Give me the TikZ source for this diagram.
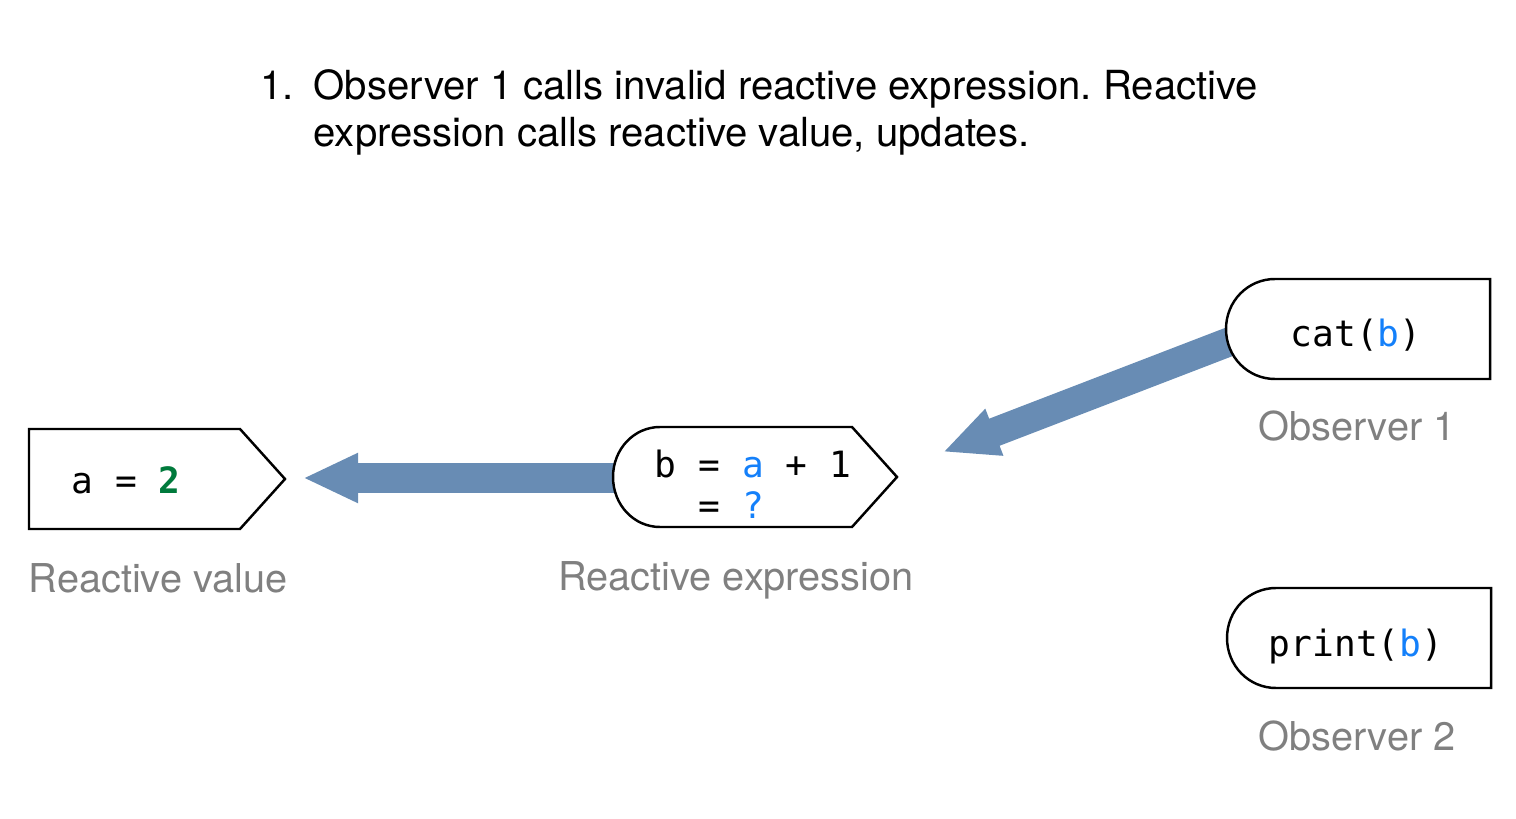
\documentclass[tikz,border=0pt]{standalone}
\usepackage{fontspec}
\setmainfont{TeX Gyre Heros}
\setmonofont{DejaVu Sans Mono}
\usetikzlibrary{arrows.meta}
\definecolor{flowblue}{RGB}{104,140,180}
\definecolor{codeblue}{RGB}{20,128,250}
\definecolor{codegreen}{RGB}{0,122,60}
\definecolor{labelgray}{RGB}{128,128,128}
\frenchspacing

\begin{document}
\begin{tikzpicture}[x=0.01cm, y=-0.01cm,
		box/.style={draw=black, fill=white, line width=0.7pt},
		flow/.style={draw=flowblue, line width=0.29cm, -{Triangle[width=0.46cm,length=0.55cm]}},
		code/.style={font=\fontsize{10.3}{11.4}\selectfont\ttfamily, anchor=base, inner sep=0pt},
		caption/.style={font=\fontsize{11.3}{13}\selectfont, text=labelgray, anchor=base, inner sep=0pt},
		heading/.style={font=\fontsize{11.4}{13}\selectfont, anchor=base west, inner sep=0pt}]
				
					\useasboundingbox (0,0) rectangle (1516,819);
					
					% title
					\node[heading] (num) at (260,100) {1.};
					\node[heading] (title1) at (313,100) {Observer 1 calls invalid reactive expression. Reactive};
					\node[heading] (title2) at (313,147) {expression calls reactive value, updates.};
					
					% arrow ends
					\coordinate (valR) at (303,478);
					\coordinate (exprL) at (622,478);
					\coordinate (exprR) at (943,452);
					\coordinate (obsA) at (1234,340);
					
					\draw[flow] (exprL) -- (valR);
					\draw[flow] (obsA) -- (exprR);
					
					% reactive value
					\draw[box] (29,429) -- (240,429) -- (285,479) -- (240,529) -- (29,529) -- cycle;
					\node[code] (val) at (126,494) {a = \textcolor{codegreen}{\textbf{2}}};
					\node[caption] (vallabel) at (158,592) {Reactive value};
					
					% reactive expression
					\draw[box] (660,427) -- (852,427) -- (897,477) -- (852,527) -- (660,527)
						.. controls (634,527) and (613,505) .. (613,477)
						.. controls (613,449) and (634,427) .. (660,427) -- cycle;
					\node[code] (expr1) at (753,478) {b = \textcolor{codeblue}{a} + 1};
					\node[code, anchor=base west] (expr2) at (expr1.base west) [yshift=-0.4cm] {\phantom{b }= \textcolor{codeblue}{?}};
					\node[caption] (exprlabel) at (736,590) {Reactive expression};
					
					% observers
					\draw[box] (1275,279) -- (1490,279) -- (1490,379) -- (1275,379)
						.. controls (1248,379) and (1226,357) .. (1226,329)
						.. controls (1226,301) and (1248,279) .. (1275,279) -- cycle;
					\node[code] (obs1) at (1356,347) {cat(\textcolor{codeblue}{b})};
					\node[caption] (obs1label) at (1357,441) {Observer 1};
					
					\draw[box] (1276,588) -- (1491,588) -- (1491,688) -- (1276,688)
						.. controls (1249,688) and (1227,666) .. (1227,638)
						.. controls (1227,610) and (1249,588) .. (1276,588) -- cycle;
					\node[code] (obs2) at (1356,656) {print(\textcolor{codeblue}{b})};
					\node[caption] (obs2label) at (1357,750) {Observer 2};
				\end{tikzpicture}
\end{document}
